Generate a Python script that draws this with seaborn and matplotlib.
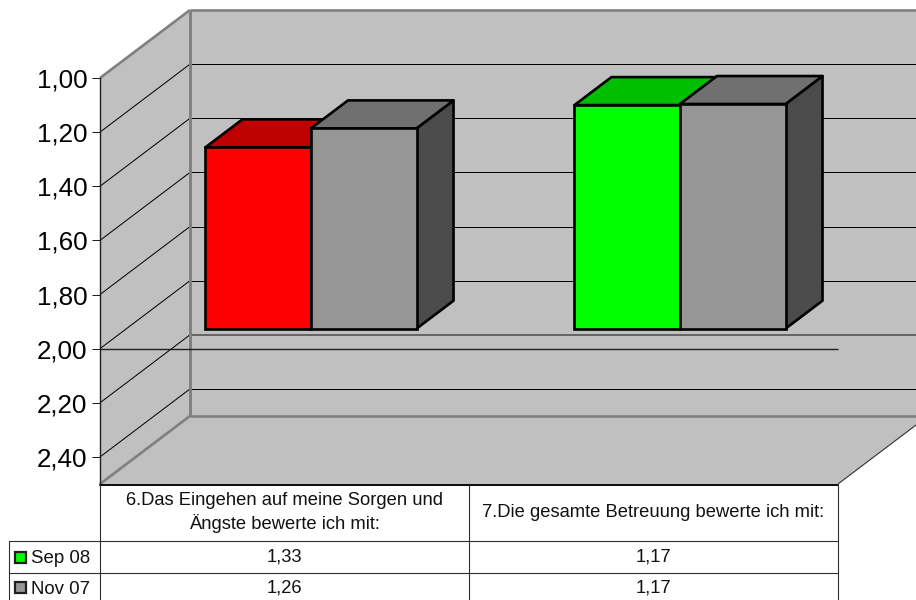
import pandas as pd
import matplotlib
matplotlib.use("Agg")
import matplotlib.pyplot as plt
from matplotlib.patches import Polygon, Rectangle
import seaborn as sns

questions = ["6.Das Eingehen auf meine Sorgen und\nÄngste bewerte ich mit:",
             "7.Die gesamte Betreuung bewerte ich mit:"]
series = ["Sep 08", "Nov 07"]
sep_08 = [1.33, 1.174]
nov_07 = [1.26, 1.17]
y_ticks = [1.0, 1.2, 1.4, 1.6, 1.8, 2.0, 2.2, 2.4]
y_min = 1.0
y_max = 2.5
baseline = 2.0

front_colors = ["#FF0000", "#969696", "#00FF00", "#969696"]
top_colors = ["#BE0000", "#707070", "#00BE00", "#707070"]
side_colors = ["#800000", "#4B4B4B", "#008000", "#4B4B4B"]
wall = "#C0C0C0"
edge = "#808080"
bar_lw = 1.9

sns.set_theme(style="white")
plt.rcParams["font.family"] = ["Liberation Sans", "DejaVu Sans"]


def comma(v):
    return f"{v:.2f}".replace(".", ",")


fig = plt.figure(figsize=(9.16, 6), dpi=100)
ax = fig.add_axes([100 / 916, 116 / 600, 738 / 916, 406 / 600])

df = pd.DataFrame({
    "frage": questions * 2,
    "serie": [series[0]] * 2 + [series[1]] * 2,
    "hoehe": [v - baseline for v in sep_08 + nov_07],
})
sns.barplot(data=df, x="frage", y="hoehe", hue="serie", ax=ax, width=0.572, gap=0,
            bottom=baseline, legend=False, saturation=1, palette=["#00FF00", "#969696"])
ax.set_ylim(y_max, y_min)
ax.set_xlim(-0.5, 1.5)
bars = sorted([p for p in ax.patches if isinstance(p, Rectangle)], key=lambda p: p.get_x())

# depth of the 3d box, in data units (90px / 68px on screen)
depth_x = 90 / 369
depth_y = 68 / (406 / (y_max - y_min))


def proj(x, y, d):
    return (x + d * depth_x, y - d * depth_y)


def box_line(x1, y1, d1, x2, y2, d2, **kw):
    p1 = proj(x1, y1, d1)
    p2 = proj(x2, y2, d2)
    ax.plot([p1[0], p2[0]], [p1[1], p2[1]], clip_on=False, solid_capstyle="butt", **kw)


xl, xr = -0.5, 1.5

# walls and floor
ax.add_patch(Polygon([proj(xl, y_min, 1), proj(xr, y_min, 1), proj(xr, y_max, 1), proj(xl, y_max, 1)],
                     facecolor=wall, edgecolor="none", clip_on=False, zorder=1))
ax.add_patch(Polygon([proj(xl, y_min, 0), proj(xl, y_min, 1), proj(xl, y_max, 1), proj(xl, y_max, 0)],
                     facecolor=wall, edgecolor="none", clip_on=False, zorder=1))
ax.add_patch(Polygon([proj(xl, y_max, 0), proj(xr, y_max, 0), proj(xr, y_max, 1), proj(xl, y_max, 1)],
                     facecolor=wall, edgecolor="none", clip_on=False, zorder=1))

# gridlines
for t in y_ticks[1:]:
    box_line(xl, t, 0, xl, t, 1, color="black", lw=0.72, zorder=2)
    c = "#555555" if t == 2.2 else "black"
    w = 1.2 if t == 2.2 else 0.72
    box_line(xl, t, 1, xr, t, 1, color=c, lw=w, zorder=2)

# grey box edges
box_line(xl, y_min, 0, xl, y_min, 1, color=edge, lw=1.9, zorder=3)
box_line(xl, y_min, 1, xr, y_min, 1, color=edge, lw=1.9, zorder=3)
box_line(xl, y_min, 1, xl, y_max, 1, color=edge, lw=2.1, zorder=3)
box_line(xl, y_max, 1, xr, y_max, 1, color=edge, lw=1.9, zorder=3)
box_line(xl, y_max, 0, xl, y_max, 1, color=edge, lw=1.9, zorder=3)
box_line(xr, y_max, 0, xr, y_max, 1, color="#303030", lw=0.8, zorder=3)
box_line(xl, baseline, 0, xr, baseline, 0, color="#202020", lw=1.0, zorder=3)

# bars: push seaborn's faces back into the box and add top + side
d_front = 26.5 / 90
d_back = 63.5 / 90
for i, bar in enumerate(bars):
    x0 = bar.get_x()
    x1 = x0 + bar.get_width()
    y_base = bar.get_y()
    y_top = y_base + bar.get_height()
    z = 5 + i
    side = Polygon([proj(x1, y_base, d_front), proj(x1, y_base, d_back),
                    proj(x1, y_top, d_back), proj(x1, y_top, d_front)],
                   facecolor=side_colors[i], edgecolor="black", lw=bar_lw, joinstyle="round", clip_on=False, zorder=z)
    top = Polygon([proj(x0, y_top, d_front), proj(x0, y_top, d_back),
                   proj(x1, y_top, d_back), proj(x1, y_top, d_front)],
                  facecolor=top_colors[i], edgecolor="black", lw=bar_lw, joinstyle="round", clip_on=False, zorder=z)
    ax.add_patch(side)
    ax.add_patch(top)
    px, py = proj(x0, y_base, d_front)
    bar.set_x(px)
    bar.set_y(py)
    bar.set_facecolor(front_colors[i])
    bar.set_edgecolor("black")
    bar.set_linewidth(bar_lw)
    bar.set_clip_on(False)
    bar.set_zorder(z + 0.5)

# value axis
for s in ["top", "right", "bottom"]:
    ax.spines[s].set_visible(False)
ax.spines["left"].set_color("#202020")
ax.spines["left"].set_linewidth(1.0)
ax.spines["left"].set_zorder(4)
ax.set_yticks(y_ticks)
ax.set_yticklabels([comma(t) for t in y_ticks], fontsize=18.7, color="black")
ax.tick_params(axis="y", left=True, length=5.8, width=0.72, color="#202020", pad=3.2)
ax.set_xticks([])
ax.set_xlabel("")
ax.set_ylabel("")

# data table under the chart, px coordinates
tab = fig.add_axes([0, 0, 1, 116 / 600], facecolor="none")
tab.set_xlim(0, 916)
tab.set_ylim(600, 484)
tab.axis("off")

col_x = [100, 469, 838]
row_y = [484, 541, 573, 600]
tab.plot([100, 838], [484.5, 484.5], color="#101010", lw=1.44, clip_on=False)
tab.plot([9, 838], [row_y[1], row_y[1]], color="#303030", lw=0.8)
tab.plot([9, 838], [row_y[2], row_y[2]], color="#303030", lw=0.8)
tab.plot([9, 9], [row_y[1], 600], color="#303030", lw=0.8)
for cx in col_x:
    tab.plot([cx, cx], [485, 600], color="#303030", lw=0.8)

for j, q in enumerate(questions):
    cx = (col_x[j] + col_x[j + 1]) / 2
    tab.text(cx, 512.5, q, ha="center", va="center", fontsize=13.2, color="#111111", linespacing=1.35)
    tab.text(cx, 557, comma(sep_08[j]), ha="center", va="center", fontsize=13.2, color="#111111")
    tab.text(cx, 588, comma(nov_07[j]), ha="center", va="center", fontsize=13.2, color="#111111")

for r, (name, col) in enumerate(zip(series, ["#00FF00", "#969696"])):
    ymid = (row_y[r + 1] + row_y[r + 2]) / 2
    tab.add_patch(Rectangle((14.5, ymid - 5.5 + r), 11, 11, facecolor=col, edgecolor="#202020", lw=1.6))
    tab.text(31, ymid + 1.5 + r, name, ha="left", va="center", fontsize=13.4, color="#111111")

fig.savefig("out.png", dpi=100)
